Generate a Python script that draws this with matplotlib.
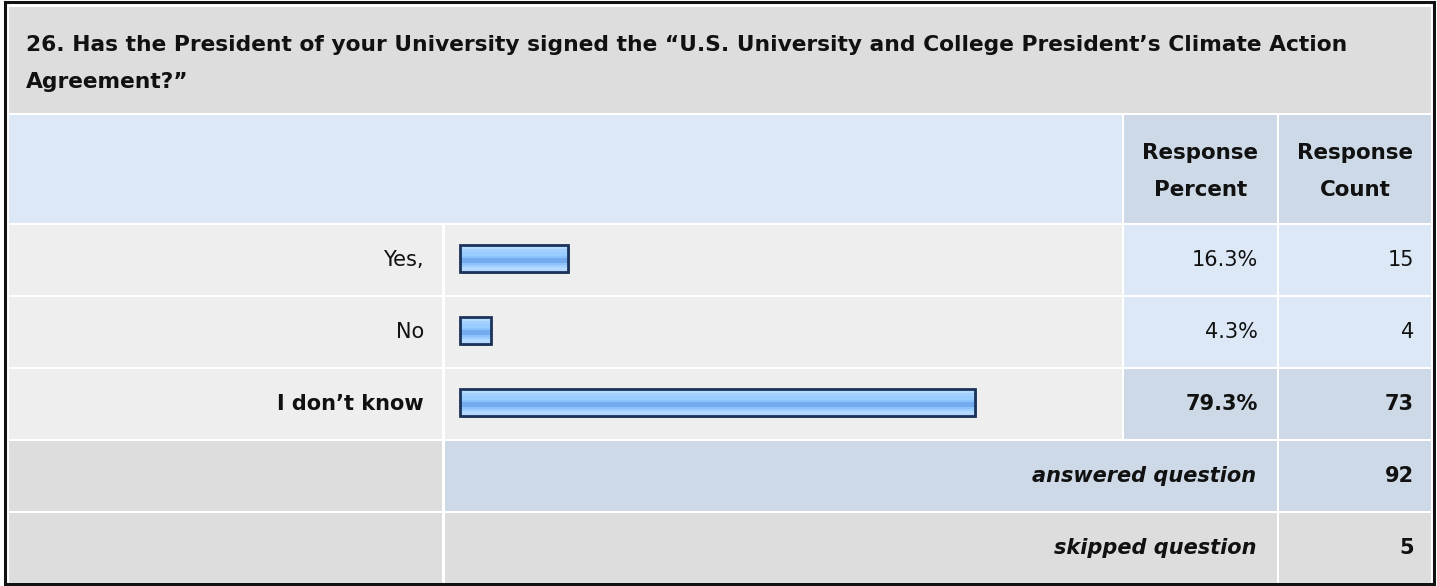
import numpy as np
import matplotlib
matplotlib.use("Agg")
import matplotlib.pyplot as plt
from matplotlib.patches import Rectangle
from matplotlib.colors import to_rgb

# ---------------- data ----------------
question_line1 = ("26. Has the President of your University signed the \u201cU.S. University and College "
                  "President\u2019s Climate Action")
question_line2 = "Agreement?\u201d"
answers = ["Yes,", "No", "I don\u2019t know"]
percents = [16.3, 4.3, 79.3]
counts = [15, 4, 73]
answered_label = "answered question"
skipped_label = "skipped question"
answered = 92
skipped = 5
header_percent = ["Response", "Percent"]
header_count = ["Response", "Count"]

# ---------------- layout (pixels) ----------------
W, H = 1437, 586
FONT = ["DejaVu Sans"]
fig = plt.figure(figsize=(W / 100, H / 100), dpi=100)
ax = fig.add_axes([0, 0, 1, 1])
ax.set_xlim(0, W)
ax.set_ylim(H, 0)
ax.axis("off")

GRAY = "#dddddd"
LIGHT = "#eeeeee"
BLUE = "#dce8f5"
BLUE2 = "#cdd9e6"

x_left, x_lab_end = 9, 442
x_bar0, x_bar_end = 445, 1122
x_pct0, x_pct_end = 1124, 1277
x_cnt0, x_cnt_end = 1279, 1431

TITLE_FS = 15.7
HEAD_FS = 15.4
ROW_FS = 15.0


def cell(x0, x1, y0, y1, color):
    ax.add_patch(Rectangle((x0, y0), x1 - x0, y1 - y0, facecolor=color, edgecolor="none", zorder=1))


def txt(x, y, s, fs, ha="right", weight="normal", style="normal"):
    ax.text(x, y, s, fontsize=fs, fontweight=weight, style=style, family=FONT,
            ha=ha, va="center", zorder=5, color="#111111")


# outer frame
ax.add_patch(Rectangle((5, 2), 1429, 582, facecolor="white", edgecolor="#111111", linewidth=2.2, zorder=0))

# title
cell(x_left, x_cnt_end, 7, 113, GRAY)
txt(26, 45, question_line1, TITLE_FS, ha="left", weight="bold")
txt(26, 82, question_line2, TITLE_FS, ha="left", weight="bold")

# header row
cell(x_left, x_bar_end, 115, 223, BLUE)
cell(x_pct0, x_pct_end, 115, 223, BLUE2)
cell(x_cnt0, x_cnt_end, 115, 223, BLUE2)
for xc, lines in [((x_pct0 + x_pct_end) / 2, header_percent), ((x_cnt0 + x_cnt_end) / 2, header_count)]:
    txt(xc, 153, lines[0], HEAD_FS, ha="center", weight="bold")
    txt(xc, 190, lines[1], HEAD_FS, ha="center", weight="bold")

# answer rows
row_tops = [225, 297, 369]
row_h = 70
imax = int(np.argmax(percents))
for i, (lab, p, c) in enumerate(zip(answers, percents, counts)):
    y0 = row_tops[i]
    y1 = y0 + row_h
    yc = (y0 + y1) / 2
    bold = (i == imax)
    cell(x_left, x_lab_end, y0, y1, LIGHT)
    cell(x_bar0, x_bar_end, y0, y1, LIGHT)
    cell(x_pct0, x_pct_end, y0, y1, BLUE2 if bold else BLUE)
    cell(x_cnt0, x_cnt_end, y0, y1, BLUE2 if bold else BLUE)
    fw = "bold" if bold else "normal"
    txt(424, yc, lab, ROW_FS, weight=fw)
    txt(1258, yc, f"{p:.1f}%", ROW_FS, weight=fw)
    txt(1414, yc, f"{c}", ROW_FS, weight=fw)

# bars
row_centers = np.array(row_tops) + row_h / 2 - 1.5
px_per_pct = 6.46
bar_lengths = np.array(percents) * px_per_pct + 3
bars = ax.barh(row_centers, bar_lengths, left=460, height=27, facecolor="none",
               edgecolor="#1c3358", linewidth=2.0, zorder=4)

stops = ["#c8e2ff", "#b6d9ff", "#a4d0ff", "#99ccff", "#99ccff", "#8cc2fb",
         "#74aaee", "#74aaee", "#8cc2fb", "#9fcfff", "#b4d8ff", "#b4d8ff"]
grad = np.array([to_rgb(s) for s in stops])[:, None, :]
for b in bars:
    x0, y0 = b.get_x(), b.get_y()
    w, h = b.get_width(), b.get_height()
    ax.add_patch(Rectangle((x0 + 1.5, y0 + 1.5), w, h, facecolor="#9aa3b0", edgecolor="none", zorder=2))
    im = ax.imshow(grad, extent=[x0, x0 + w, y0 + h, y0], aspect="auto", interpolation="nearest", zorder=3)
    im.set_clip_path(Rectangle((x0, y0), w, h, transform=ax.transData))
ax.set_xlim(0, W)
ax.set_ylim(H, 0)

# answered / skipped rows
y0 = 441
cell(x_left, x_lab_end, y0, y0 + row_h, GRAY)
cell(x_bar0, x_pct_end, y0, y0 + row_h, BLUE2)
cell(x_cnt0, x_cnt_end, y0, y0 + row_h, BLUE2)
txt(1256, y0 + row_h / 2, answered_label, ROW_FS, weight="bold", style="italic")
txt(1414, y0 + row_h / 2, f"{answered}", ROW_FS, weight="bold")

y0 = 513
cell(x_left, x_lab_end, y0, y0 + row_h, GRAY)
cell(x_bar0, x_pct_end, y0, y0 + row_h, GRAY)
cell(x_cnt0, x_cnt_end, y0, y0 + row_h, GRAY)
txt(1256, y0 + row_h / 2, skipped_label, ROW_FS, weight="bold", style="italic")
txt(1414, y0 + row_h / 2, f"{skipped}", ROW_FS, weight="bold")

fig.savefig("out.png", dpi=100)
